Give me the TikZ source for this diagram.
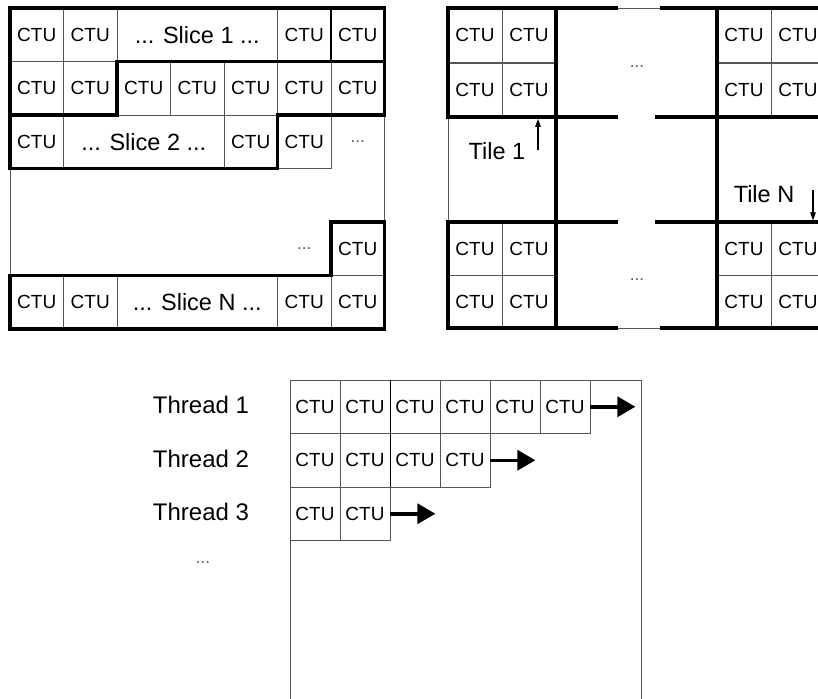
\documentclass[tikz,border=0pt]{standalone}
\usepackage{fontspec}
\setmainfont{Liberation Sans}
\usepackage{tikz}
\usetikzlibrary{positioning,calc,arrows.meta}
\definecolor{gridGray}{RGB}{85,85,85}

\begin{document}
\begin{tikzpicture}[x=1pt,y=-1pt,
  ctu/.style={rectangle,draw=gridGray,line width=0.7pt,inner sep=0pt,
              minimum width=#1,minimum height=53.5pt,
              font=\fontsize{19}{19}\selectfont},
  ctu/.default=53.5pt,
  wide/.style={ctu=160.5pt,font=\fontsize{23.5}{23.5}\selectfont},
  dots/.style={inner sep=0pt,font=\fontsize{17}{17}\selectfont,text=gridGray},
  lbl/.style={inner sep=0pt,font=\fontsize{23.5}{23.5}\selectfont},
  bound/.style={line width=3.8pt,line cap=rect,line join=miter},
  thinline/.style={draw=gridGray,line width=0.7pt},
  flow/.style={line width=3.5pt,-{Triangle[length=18pt,width=20pt]}},
  tilearrow/.style={line width=1.1pt,-{Triangle[length=8pt,width=5.5pt]}}
]
\useasboundingbox (0,0) rectangle (818,698);
% Slices
\draw[thinline] (10,8) rectangle (384.5,329);
\foreach \c/\x in {1/36.75,2/90.25,6/304.25,7/357.75} {
  \node[ctu] (sa\c) at (\x,34.75) {CTU};
  \node[ctu] (sf\c) at (\x,302.25) {CTU};
}
\node[wide] (slice1) at (197.25,34.75) {... Slice 1 ...};
\node[wide] (sliceN) at (197.25,302.25) {... Slice N ...};
\foreach \c in {1,...,7}
  \node[ctu] (sb\c) at ({10+53.5*(\c-0.5)},88.25) {CTU};
\node[ctu] (sc1) at (36.75,141.75) {CTU};
\node[wide] (slice2) at (143.75,141.75) {... Slice 2 ...};
\node[ctu] (sc5) at (250.75,141.75) {CTU};
\node[ctu] (sc6) at (304.25,141.75) {CTU};
\node[dots] (sc7) at (357.75,141.75) {...};
\node[dots] (se6) at (304.25,248.75) {...};
\node[ctu] (se7) at (357.75,248.75) {CTU};
% slice borders
\draw[bound] (10,168.5) -- (10,8) -- (384.5,8) -- (384.5,115);
\draw[bound] (10,115) -- (117,115) -- (117,61.5) -- (384.5,61.5);
\draw[bound] (384.5,115) -- (277.5,115) -- (277.5,168.5) -- (10,168.5);
\draw[bound] (10,275.5) -- (331,275.5) -- (331,222) -- (384.5,222)
  -- (384.5,329) -- (10,329) -- cycle;
\draw[line width=1.8pt] (331,8) -- (331,61.5);
% Tiles
\foreach \r/\y in {1/35.25,2/89.75,3/249,4/302}
  \foreach \c/\x in {1/475,2/529,3/744,4/798}
    \node[ctu=54pt] (t\r\c) at (\x,\y) {CTU};
\node[dots] (tdotsA) at (637,67) {...};
\node[dots] (tdotsB) at (637,280) {...};
\draw[thinline] (616,8) -- (662,8);
\draw[thinline] (616,328) -- (662,328);
\draw[thinline] (448,117) -- (448,222);
\draw[bound] (448,117) -- (448,8) -- (616,8);
\draw[bound] (662,8) -- (825,8);
\draw[bound] (448,222) -- (448,328) -- (616,328);
\draw[bound] (662,328) -- (825,328);
\draw[bound] (556,8) -- (556,328);
\draw[bound] (717,8) -- (717,328);
\draw[bound] (448,117) -- (616,117);
\draw[bound] (657,117) -- (825,117);
\draw[bound] (448,222) -- (616,222);
\draw[bound] (657,222) -- (825,222);
\node[lbl] (tile1) at (497,151) {Tile 1};
\coordinate (t1a) at (538,150);
\draw[tilearrow] (t1a) -- ($(t1a |- t22.south)+(0,2)$);
\node[lbl] (tileN) at (764,194) {Tile N};
\coordinate (tNa) at (813,190);
\draw[tilearrow] (tNa) -- ($(tNa |- t34.north)+(0,-1.5)$);
% Threads
\draw[thinline] (290,380) rectangle (641,705);
\foreach \r/\n in {1/6,2/4,3/2}
  \foreach \c in {1,...,\n}
    \node[ctu=50pt] (h\r\c) at ({290+50*(\c-0.5)},{380+53.5*(\r-0.5)}) {CTU};
\draw[line width=1.6pt] (h12.north east) -- (h22.south east);
\coordinate[right=45pt of h16] (e1);
\coordinate[right=45pt of h24] (e2);
\coordinate[right=45pt of h32] (e3);
\draw[flow] (h16.east) -- (e1);
\draw[flow] (h24.east) -- (e2);
\draw[flow] (h32.east) -- (e3);
\node[lbl,font=\fontsize{24}{24}\selectfont] (th1) at (201,405) {Thread 1};
\node[lbl,font=\fontsize{24}{24}\selectfont] (th2) at (201,459) {Thread 2};
\node[lbl,font=\fontsize{24}{24}\selectfont] (th3) at (201,512) {Thread 3};
\node[dots] (thd) at (203,563) {...};
\end{tikzpicture}
\end{document}
